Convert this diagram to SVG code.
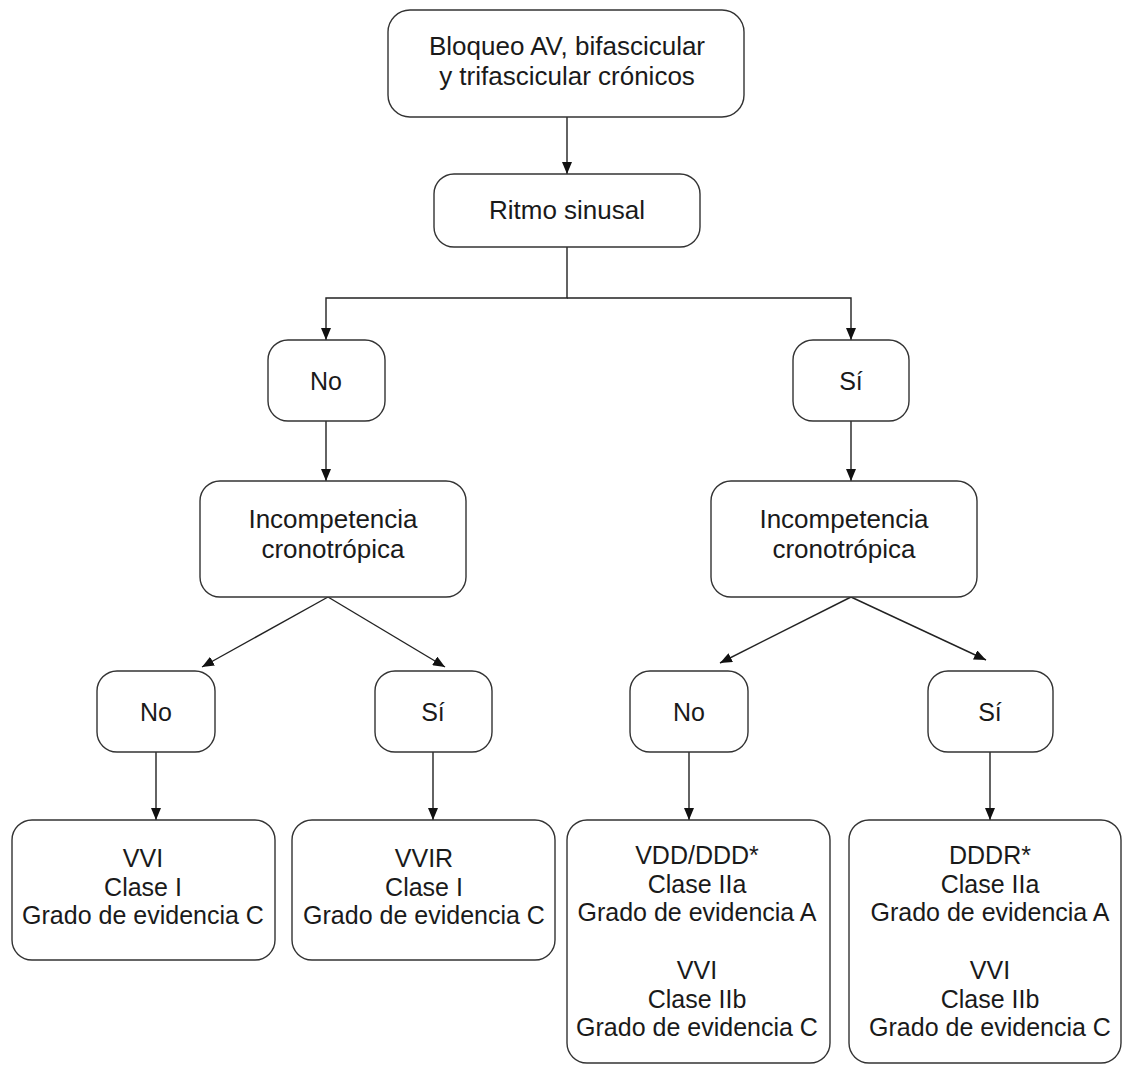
<svg xmlns="http://www.w3.org/2000/svg" width="1123" height="1065" viewBox="0 0 1123 1065">
<style>
.box{fill:#fff;stroke:#333;stroke-width:1.4}
.t{font-family:"Liberation Sans",Arial,sans-serif;font-size:25px;fill:#1a1a1a;text-anchor:middle}
.L{font-size:26px}
.c{fill:none;stroke:#222;stroke-width:1.4}
</style>
<defs>
<marker id="ah" markerUnits="userSpaceOnUse" markerWidth="12" markerHeight="10" refX="12" refY="5" orient="auto">
<path d="M0,0 L12,5 L0,10 z" fill="#111"/>
</marker>
</defs>
<rect width="1123" height="1065" fill="#fff"/>
<g id="connectors">
<line class="c" x1="567" y1="117" x2="567" y2="174" marker-end="url(#ah)"/>
<polyline class="c" points="567,247 567,298 326,298 326,340" marker-end="url(#ah)"/>
<polyline class="c" points="567,298 851,298 851,340" marker-end="url(#ah)"/>
<line class="c" x1="326" y1="421" x2="326" y2="481" marker-end="url(#ah)"/>
<line class="c" x1="851" y1="421" x2="851" y2="481" marker-end="url(#ah)"/>
<line class="c" x1="328" y1="597" x2="202" y2="667" marker-end="url(#ah)"/>
<line class="c" x1="328" y1="597" x2="445" y2="667" marker-end="url(#ah)"/>
<line class="c" x1="851" y1="597" x2="720" y2="663" marker-end="url(#ah)"/>
<line class="c" x1="851" y1="597" x2="986" y2="660" marker-end="url(#ah)"/>
<line class="c" x1="156" y1="752" x2="156" y2="820" marker-end="url(#ah)"/>
<line class="c" x1="433" y1="752" x2="433" y2="820" marker-end="url(#ah)"/>
<line class="c" x1="689" y1="752" x2="689" y2="820" marker-end="url(#ah)"/>
<line class="c" x1="990" y1="752" x2="990" y2="820" marker-end="url(#ah)"/>
</g>
<g id="n-bloqueo">
<rect class="box" x="388" y="10" width="356" height="107" rx="22"/>
<text class="t L" x="567" y="55">Bloqueo AV, bifascicular</text>
<text class="t L" x="567" y="85">y trifascicular crónicos</text>
</g>
<g id="n-ritmo">
<rect class="box" x="434" y="174" width="266" height="73" rx="20"/>
<text class="t L" x="567" y="219">Ritmo sinusal</text>
</g>
<g id="n-no1">
<rect class="box" x="268" y="340" width="117" height="81" rx="20"/>
<text class="t" x="326" y="390">No</text>
</g>
<g id="n-si1">
<rect class="box" x="793" y="340" width="116" height="81" rx="20"/>
<text class="t" x="851" y="390">Sí</text>
</g>
<g id="n-inc1">
<rect class="box" x="200" y="481" width="266" height="116" rx="20"/>
<text class="t L" x="333" y="528">Incompetencia</text>
<text class="t L" x="333" y="558">cronotrópica</text>
</g>
<g id="n-inc2">
<rect class="box" x="711" y="481" width="266" height="116" rx="20"/>
<text class="t L" x="844" y="528">Incompetencia</text>
<text class="t L" x="844" y="558">cronotrópica</text>
</g>
<g id="n-no2">
<rect class="box" x="97" y="671" width="118" height="81" rx="20"/>
<text class="t" x="156" y="721">No</text>
</g>
<g id="n-si2">
<rect class="box" x="375" y="671" width="117" height="81" rx="20"/>
<text class="t" x="433" y="721">Sí</text>
</g>
<g id="n-no3">
<rect class="box" x="630" y="671" width="118" height="81" rx="20"/>
<text class="t" x="689" y="721">No</text>
</g>
<g id="n-si3">
<rect class="box" x="928" y="671" width="125" height="81" rx="20"/>
<text class="t" x="990" y="721">Sí</text>
</g>
<g id="n-vvi">
<rect class="box" x="12" y="820" width="263" height="140" rx="20"/>
<text class="t" x="143" y="867">VVI</text>
<text class="t" x="143" y="896">Clase I</text>
<text class="t" x="143" y="924">Grado de evidencia C</text>
</g>
<g id="n-vvir">
<rect class="box" x="292" y="820" width="263" height="140" rx="20"/>
<text class="t" x="424" y="867">VVIR</text>
<text class="t" x="424" y="896">Clase I</text>
<text class="t" x="424" y="924">Grado de evidencia C</text>
</g>
<g id="n-vdd">
<rect class="box" x="567" y="820" width="263" height="243" rx="20"/>
<text class="t" x="697" y="864">VDD/DDD*</text>
<text class="t" x="697" y="893">Clase IIa</text>
<text class="t" x="697" y="921">Grado de evidencia A</text>
<text class="t" x="697" y="979">VVI</text>
<text class="t" x="697" y="1008">Clase IIb</text>
<text class="t" x="697" y="1036">Grado de evidencia C</text>
</g>
<g id="n-dddr">
<rect class="box" x="849" y="820" width="272" height="243" rx="20"/>
<text class="t" x="990" y="864">DDDR*</text>
<text class="t" x="990" y="893">Clase IIa</text>
<text class="t" x="990" y="921">Grado de evidencia A</text>
<text class="t" x="990" y="979">VVI</text>
<text class="t" x="990" y="1008">Clase IIb</text>
<text class="t" x="990" y="1036">Grado de evidencia C</text>
</g>
</svg>
